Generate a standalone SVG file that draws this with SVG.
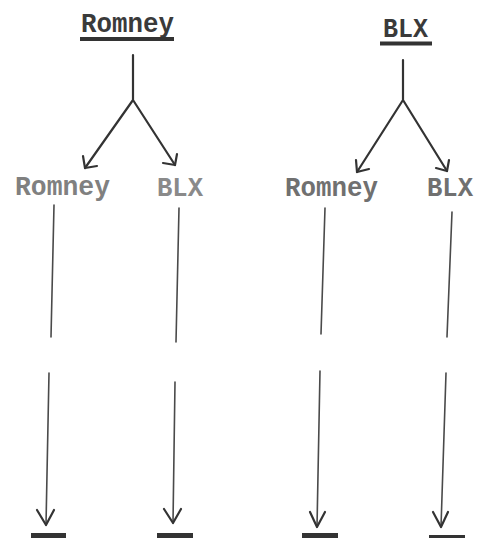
<svg xmlns="http://www.w3.org/2000/svg" width="479" height="538" viewBox="0 0 479 538">
  <style>
    .bg { fill: #ffffff; }
    .head { font-family: "Liberation Mono", "DejaVu Sans Mono", monospace; font-size: 28px; font-weight: bold; fill: #3a3a3a; }
    .sub { font-family: "Liberation Mono", "DejaVu Sans Mono", monospace; font-size: 28px; font-weight: bold; fill: #808080; }
    .bar { fill: #333333; }
    .fork { fill: none; stroke: #333333; stroke-width: 2.2; stroke-linecap: round; stroke-linejoin: round; }
    .drop { fill: none; stroke: #4a4a4a; stroke-width: 1.6; stroke-linecap: round; }
    .tip { fill: none; stroke: #333333; stroke-width: 2.2; stroke-linecap: round; stroke-linejoin: round; }
  </style>
  <rect class="bg" x="0" y="0" width="479" height="538"/>

  <!-- parent labels with underlines -->
  <g id="parent-romney">
    <text class="head" x="81" y="32" textLength="93" lengthAdjust="spacingAndGlyphs">Romney</text>
    <rect class="bar" x="80" y="37" width="94" height="4"/>
  </g>
  <g id="parent-blx">
    <text class="head" x="383" y="37" textLength="45" lengthAdjust="spacingAndGlyphs">BLX</text>
    <rect class="bar" x="380" y="41.5" width="52" height="4"/>
  </g>

  <!-- offspring labels -->
  <g id="child-romney-1">
    <text class="sub" x="15" y="195" textLength="95" lengthAdjust="spacingAndGlyphs">Romney</text>
  </g>
  <g id="child-blx-1">
    <text class="sub" x="157" y="196" textLength="46" lengthAdjust="spacingAndGlyphs" style="fill:#8a8a8a">BLX</text>
  </g>
  <g id="child-romney-2">
    <text class="sub" x="285" y="196" textLength="93" lengthAdjust="spacingAndGlyphs" style="fill:#707070">Romney</text>
  </g>
  <g id="child-blx-2">
    <text class="sub" x="427" y="196" textLength="46" lengthAdjust="spacingAndGlyphs" style="fill:#707070">BLX</text>
  </g>

  <!-- bottom result marks (cut at the page edge) -->
  <g id="result-1"><rect class="bar" x="31" y="533" width="35" height="6"/></g>
  <g id="result-2"><rect class="bar" x="157" y="533" width="36" height="6"/></g>
  <g id="result-3"><rect class="bar" x="302" y="533" width="36" height="6"/></g>
  <g id="result-4"><rect class="bar" x="429" y="535" width="36" height="4"/></g>

  <g id="connectors">
    <!-- left fork -->
    <path class="fork" d="M133 55 L133 100 M133 100 L85 168 M133 100 L175 165"/>
    <path class="tip" d="M83 156 L85 168 L97 166"/>
    <path class="tip" d="M177 154 L175 165 L163 163"/>
    <!-- right fork -->
    <path class="fork" d="M403 60 L403 100 M403 100 L357 172 M403 100 L447 171"/>
    <path class="tip" d="M356 160 L357 172 L369 169"/>
    <path class="tip" d="M449 160 L447 171 L436 168"/>

    <!-- long drops, each broken in the middle -->
    <path class="drop" d="M54 205 L51 337 M49 373 L46 525"/>
    <path class="tip" d="M37 510 L46 525 L54 510"/>

    <path class="drop" d="M179 208 L176 342 M175 382 L173 523"/>
    <path class="tip" d="M164 509 L173 523 L181 509"/>

    <path class="drop" d="M325 208 L321 334 M320 371 L317 527"/>
    <path class="tip" d="M310 512 L317 527 L325 512"/>

    <path class="drop" d="M452 212 L447 337 M446 373 L441 527"/>
    <path class="tip" d="M433 512 L441 527 L448 512"/>
  </g>
</svg>
